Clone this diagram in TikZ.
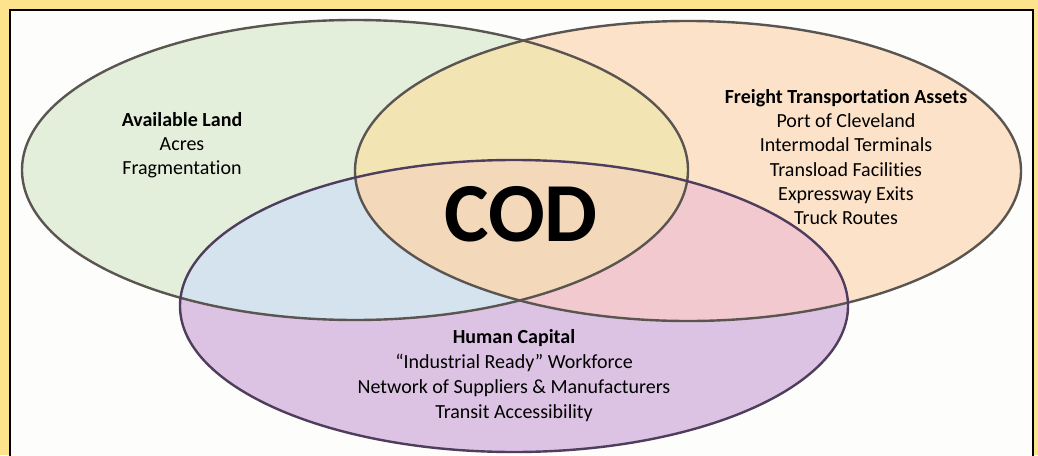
\documentclass[tikz,border=0pt]{standalone}
\usepackage{fontspec}
\setmainfont{Carlito}[Ligatures={NoCommon}]
\definecolor{frameY}{HTML}{FDE38B}
\definecolor{paper}{HTML}{FDFDFB}
\definecolor{gOnly}{HTML}{E3EEDB}
\definecolor{oOnly}{HTML}{FCE2C8}
\definecolor{pOnly}{HTML}{DDC3E3}
\definecolor{goCol}{HTML}{F2E5B3}
\definecolor{gpCol}{HTML}{D4E3EE}
\definecolor{opCol}{HTML}{F2C9CF}
\definecolor{allCol}{HTML}{F3D9B9}
\definecolor{edgeGray}{HTML}{5A5550}
\definecolor{edgePurple}{HTML}{4E3D5C}
\tikzset{
  rim/.style={line width=2.4pt},
  label/.style={align=center, font=\fontsize{20}{24.3}\selectfont, inner sep=0pt},
}
\newcommand{\GreenE}{(355,170) ellipse [x radius=333pt, y radius=150pt]}
\newcommand{\OrangeE}{(688,171) ellipse [x radius=333pt, y radius=150pt]}
\newcommand{\PurpleE}{(514,306) ellipse [x radius=334pt, y radius=146pt]}
\begin{document}
\begin{tikzpicture}[x=1pt,y=-1pt]
\useasboundingbox (0,0) rectangle (1038,455);
\fill[frameY] (0,0) rectangle (1038,455);
\draw[fill=paper, line width=1.5pt] (10,10) rectangle (1033,470);
% base fills
\fill[gOnly] \GreenE;
\fill[oOnly] \OrangeE;
\fill[pOnly] \PurpleE;
\begin{scope}
  \clip \GreenE;
  \fill[goCol] \OrangeE;
  \fill[gpCol] \PurpleE;
  \clip \OrangeE;
  \fill[allCol] \PurpleE;
\end{scope}
\begin{scope}
  \clip \OrangeE;
  \begin{scope}[even odd rule]
    \clip (0,0) rectangle (1038,455) \GreenE;
    \fill[opCol] \PurpleE;
  \end{scope}
\end{scope}
% outlines
\draw[rim, edgeGray] \GreenE;
\draw[rim, edgeGray] \OrangeE;
\draw[rim, edgePurple] \PurpleE;
% texts
\node[label] (land) at (182,145) {\textbf{Available Land}\\Acres\\Fragmentation};
\node[label] (freight) at (846,157) {\textbf{Freight Transportation Assets}\\Port of Cleveland\\Intermodal Terminals\\Transload Facilities\\Expressway Exits\\Truck Routes};
\node[label, font=\fontsize{20}{25}\selectfont] (human) at (514,376) {\textbf{Human Capital}\\“Industrial Ready” Workforce\\Network of Suppliers \& Manufacturers\\Transit Accessibility};
\node[font=\fontsize{84}{86}\selectfont\bfseries, inner sep=0pt] (cod) at (521,214) {COD};
\end{tikzpicture}
\end{document}
